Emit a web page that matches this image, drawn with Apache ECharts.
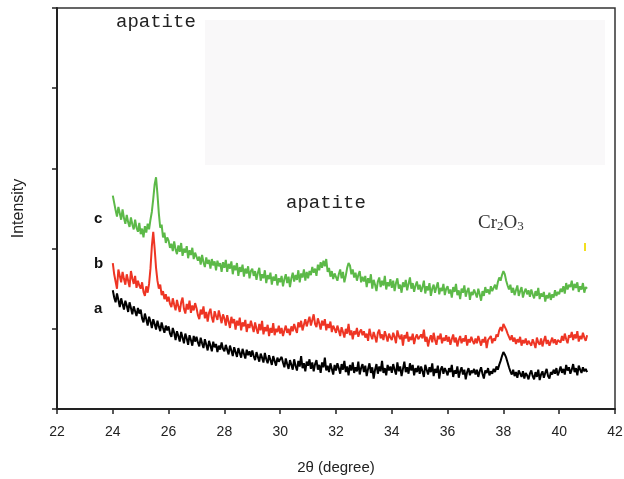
<!DOCTYPE html>
<html>
<head>
<meta charset="utf-8">
<script src="https://cdn.jsdelivr.net/npm/echarts@6/dist/echarts.min.js"></script>
<style>
  html, body { margin: 0; padding: 0; background: #fff; }
  #chart { width: 624px; height: 479px; }
</style>
</head>
<body>
<div id="chart"></div>
<script>
// 2θ scan grid: 24.00 .. 41.00 every 0.05 degree (one row = one degree)
const SCAN_START = 24.0;
const SCAN_STEP = 0.05;

const xTicks = [22, 24, 26, 28, 30, 32, 34, 36, 38, 40, 42];

// a (black)
const sampleA = [
    148, 139, 133, 144, 136, 127, 138, 131, 124, 135, 129, 121, 133, 126, 118, 128, 122, 116, 126, 119,
    124, 113, 108, 119, 112, 104, 115, 109, 101, 112, 106, 99, 110, 103, 97, 108, 101, 95, 104, 98,
    103, 94, 90, 101, 95, 86, 97, 91, 84, 96, 89, 82, 94, 88, 80, 92, 86, 79, 91, 84,
    90, 83, 78, 89, 82, 76, 87, 80, 73, 85, 79, 72, 84, 77, 81, 71, 79, 74, 83, 75,
    72, 80, 74, 68, 79, 73, 66, 77, 71, 65, 76, 70, 64, 75, 69, 63, 74, 67, 72, 65,
    73, 66, 61, 71, 65, 59, 69, 64, 58, 70, 62, 57, 67, 61, 55, 66, 60, 54, 64, 59,
    57, 65, 58, 52, 63, 56, 50, 61, 55, 49, 62, 54, 48, 60, 53, 66, 51, 57, 47, 59,
    54, 62, 50, 58, 47, 56, 61, 49, 55, 45, 58, 52, 64, 48, 54, 46, 57, 50, 43, 55,
    48, 57, 51, 44, 56, 49, 60, 46, 53, 42, 55, 48, 58, 45, 52, 47, 59, 43, 51, 56,
    46, 54, 41, 50, 57, 45, 52, 38, 49, 56, 44, 53, 47, 60, 45, 51, 42, 55, 48, 53,
    45, 56, 49, 43, 58, 47, 53, 41, 50, 59, 46, 52, 44, 57, 48, 55, 42, 51, 46, 54,
    44, 53, 47, 40, 55, 49, 43, 52, 46, 57, 41, 50, 45, 54, 38, 49, 53, 44, 51, 47,
    42, 51, 46, 55, 40, 48, 44, 53, 39, 47, 52, 43, 49, 37, 46, 51, 42, 48, 45, 50,
    43, 49, 40, 47, 52, 44, 38, 48, 45, 51, 42, 47, 44, 50, 46, 53, 49, 55, 60, 66,
    71, 68, 64, 58, 52, 47, 43, 49, 41, 46, 39, 48, 44, 40, 47, 38, 45, 42, 37, 44,
    48, 41, 37, 46, 40, 49, 36, 43, 47, 39, 45, 50, 41, 38, 46, 43, 49, 44, 51, 42,
    47, 53, 45, 50, 43, 55, 48, 52, 44, 49, 56, 46, 51, 42, 54, 49, 45, 52, 47, 50,
    46
];

// b (red)
const sampleB = [
    182, 168, 159, 150, 174, 166, 158, 171, 162, 155, 168, 160, 152, 172, 163, 156, 166, 151, 160, 154,
    150, 158, 146, 141, 153, 145, 156, 175, 203, 221, 200, 176, 160, 150, 155, 142, 147, 137, 143, 134,
    140, 131, 127, 138, 130, 123, 136, 128, 121, 133, 139, 125, 119, 131, 124, 135, 120, 129, 123, 132,
    126, 117, 112, 124, 118, 128, 113, 121, 109, 120, 125, 114, 108, 122, 116, 111, 123, 115, 107, 118,
    113, 104, 117, 109, 101, 115, 107, 112, 99, 110, 104, 114, 98, 108, 103, 111, 96, 106, 101, 110,
    103, 96, 108, 100, 94, 106, 98, 110, 93, 102, 97, 105, 91, 101, 95, 107, 92, 100, 96, 104,
    94, 101, 91, 98, 104, 95, 100, 92, 103, 97, 106, 100, 95, 108, 102, 110, 98, 105, 112, 103,
    109, 115, 104, 111, 118, 106, 102, 113, 107, 99, 110, 104, 112, 98, 106, 101, 109, 96, 104, 100,
    95, 104, 98, 91, 102, 96, 89, 100, 94, 106, 92, 98, 87, 97, 93, 101, 90, 96, 99, 92,
    97, 89, 94, 85, 100, 92, 87, 96, 90, 83, 95, 99, 88, 93, 86, 97, 91, 84, 94, 89,
    86, 95, 90, 82, 98, 91, 87, 93, 79, 92, 88, 96, 84, 90, 86, 94, 81, 89, 93, 87,
    85, 93, 88, 99, 84, 90, 78, 87, 92, 83, 95, 86, 80, 91, 87, 94, 82, 89, 85, 92,
    84, 90, 80, 87, 93, 83, 89, 78, 86, 91, 82, 88, 84, 92, 79, 87, 83, 90, 85, 81,
    88, 82, 91, 85, 79, 87, 83, 90, 76, 86, 84, 91, 82, 88, 85, 93, 90, 98, 102, 97,
    106, 108, 99, 94, 90, 86, 92, 84, 89, 81, 87, 83, 90, 79, 86, 82, 88, 80, 85, 83,
    79, 87, 82, 76, 89, 83, 80, 88, 78, 85, 91, 81, 86, 79, 84, 89, 82, 87, 80, 86,
    88, 83, 91, 85, 94, 87, 82, 92, 89, 96, 86, 93, 88, 97, 84, 91, 87, 95, 89, 85,
    92
];

// c (green)
const sampleC = [
    266, 257, 248, 240, 252, 244, 236, 249, 238, 231, 242, 233, 227, 239, 230, 224, 236, 226, 221, 232,
    218, 225, 214, 228, 220, 231, 224, 236, 246, 262, 280, 289, 268, 244, 226, 230, 214, 220, 207, 214,
    210, 201, 206, 197, 209, 199, 193, 204, 196, 207, 191, 200, 195, 203, 188, 198, 192, 201, 187, 195,
    194, 185, 190, 180, 192, 183, 177, 189, 181, 186, 175, 187, 179, 184, 173, 185, 178, 182, 171, 183,
    176, 186, 171, 181, 175, 184, 168, 179, 173, 182, 166, 177, 171, 180, 165, 175, 169, 178, 163, 172,
    175, 166, 172, 161, 170, 176, 160, 168, 163, 173, 157, 167, 162, 170, 155, 165, 160, 168, 154, 163,
    158, 166, 153, 162, 168, 157, 165, 152, 163, 170, 159, 167, 161, 173, 158, 169, 164, 174, 160, 171,
    163, 172, 167, 177, 170, 175, 166, 180, 173, 183, 176, 185, 178, 187, 171, 176, 165, 172, 162, 169,
    171, 160, 168, 174, 163, 171, 158, 166, 176, 182, 179, 168, 174, 164, 170, 160, 167, 172, 158, 165,
    159, 166, 152, 163, 157, 168, 150, 161, 155, 147, 159, 164, 152, 160, 154, 166, 149, 158, 153, 162,
    151, 160, 147, 157, 163, 150, 155, 145, 158, 152, 161, 148, 156, 164, 150, 157, 146, 154, 159, 149,
    155, 146, 152, 160, 144, 153, 148, 157, 141, 150, 155, 145, 152, 158, 143, 151, 147, 156, 142, 150,
    153, 144, 149, 139, 152, 146, 156, 142, 148, 137, 150, 145, 154, 140, 147, 151, 136, 146, 142, 149,
    144, 139, 150, 143, 135, 147, 141, 152, 145, 149, 143, 153, 147, 151, 155, 149, 158, 164, 160, 167,
    172, 168, 160, 154, 149, 155, 145, 151, 142, 148, 154, 141, 147, 152, 139, 146, 150, 143, 148, 140,
    149, 143, 138, 147, 141, 151, 137, 144, 140, 146, 134, 142, 138, 145, 136, 143, 139, 148, 141, 146,
    143, 150, 146, 153, 144, 157, 149, 155, 152, 160, 148, 156, 151, 158, 146, 153, 149, 157, 145, 152,
    150
];

function toPairs(vals) {
    return vals.map((v, i) => [+(SCAN_START + i * SCAN_STEP).toFixed(2), v]);
}

const chart = echarts.init(document.getElementById('chart'));

const annoFont = '"Liberation Mono", "DejaVu Sans Mono", monospace';
const sans = '"Liberation Sans", Arial, sans-serif';

chart.setOption({
    animation: false,
    backgroundColor: '#fff',
    grid: {
        left: 57, right: 9, top: 8, bottom: 70,
        containLabel: false,
        outerBoundsMode: 'none',
        show: true, borderColor: '#333', borderWidth: 1.5, backgroundColor: 'transparent'
    },
    xAxis: {
        type: 'value',
        min: xTicks[0],
        max: xTicks[xTicks.length - 1],
        interval: 2,
        name: '2θ (degree)',
        nameLocation: 'middle',
        nameGap: 51,
        nameTextStyle: { fontFamily: sans, fontSize: 15, color: '#222' },
        axisLine: { show: true, lineStyle: { color: '#222', width: 2 } },
        axisTick: { show: true, inside: false, length: 5, lineStyle: { color: '#222', width: 1.5 } },
        axisLabel: { fontFamily: sans, fontSize: 14, color: '#222', margin: 16 },
        splitLine: { show: false }
    },
    yAxis: {
        type: 'value',
        min: 0,
        max: 500,
        interval: 100,
        name: 'Intensity',
        nameLocation: 'middle',
        nameGap: 30,
        nameTextStyle: { fontFamily: sans, fontSize: 16, color: '#222' },
        axisLine: { show: true, lineStyle: { color: '#222', width: 2 } },
        axisTick: { show: true, inside: false, length: 5, lineStyle: { color: '#222', width: 1.5 } },
        axisLabel: { show: false },
        splitLine: { show: false }
    },
    graphic: [
        // faint shaded box in the upper right
        { type: 'rect', z: -1, shape: { x: 205, y: 20, width: 400, height: 145 }, style: { fill: '#f9f8f9' } },
        { type: 'text', left: 116, top: 12, style: { text: 'apatite', font: '19px ' + annoFont, fill: '#222' } },
        { type: 'text', left: 286, top: 193, style: { text: 'apatite', font: '19px ' + annoFont, fill: '#222' } },
        {
            type: 'text', left: 478, top: 214,
            style: {
                text: '{b|Cr}{s|2}{b|O}{s|3}',
                rich: {
                    b: { fontFamily: 'Liberation Serif, serif', fontSize: 19, fill: '#333', verticalAlign: 'bottom' },
                    s: { fontFamily: 'Liberation Serif, serif', fontSize: 13, fill: '#333', verticalAlign: 'bottom' }
                }
            }
        },
        { type: 'text', left: 94, top: 211, style: { text: 'c', font: 'bold 15px ' + sans, fill: '#111' } },
        { type: 'text', left: 94, top: 256, style: { text: 'b', font: 'bold 15px ' + sans, fill: '#111' } },
        { type: 'text', left: 94, top: 301, style: { text: 'a', font: 'bold 15px ' + sans, fill: '#111' } },
        { type: 'rect', shape: { x: 584, y: 243, width: 2, height: 8 }, style: { fill: '#f3df20' } }
    ],
    series: [
        {
            name: 'a', type: 'line', data: toPairs(sampleA), showSymbol: false, symbol: 'none',
            lineStyle: { color: '#000', width: 2 }
        },
        {
            name: 'b', type: 'line', data: toPairs(sampleB), showSymbol: false, symbol: 'none',
            lineStyle: { color: '#ee3524', width: 2 }
        },
        {
            name: 'c', type: 'line', data: toPairs(sampleC), showSymbol: false, symbol: 'none',
            lineStyle: { color: '#5cb948', width: 2 }
        }
    ]
});
</script>
</body>
</html>
